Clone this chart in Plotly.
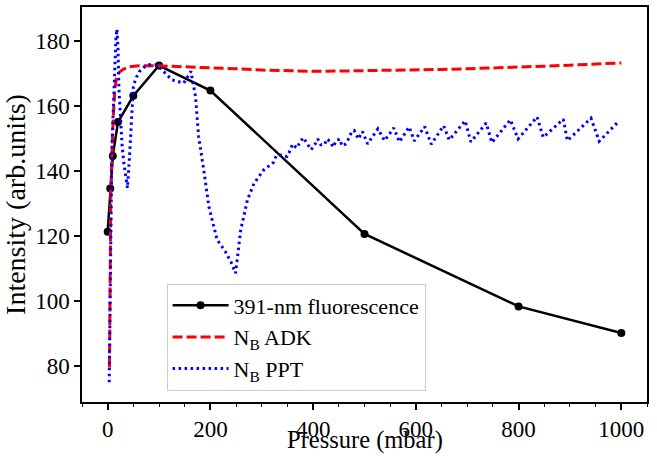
import plotly.graph_objects as go

# 391-nm fluorescence (measured)
p_fluo = [0, 5, 10, 20, 50, 100, 200, 500, 800, 1000]
i_fluo = [121.3, 134.6, 144.6, 155.0, 163.1, 172.4, 164.7, 120.6, 98.3, 90.1]

# N_B ADK
p_adk = [3.5, 4, 5, 6, 7, 8, 10, 12, 14, 17, 22, 30, 42, 60, 100, 150, 200, 250, 300,
         350, 400, 450, 500, 550, 600, 650, 700, 750, 800, 850, 900, 950, 1000]
i_adk = [79.5, 100, 118, 131, 139, 145, 153, 160, 165, 168.5, 170.2, 171.2, 172.0, 172.3,
         172.3, 172.0, 171.8, 171.4, 171.0, 170.8, 170.6, 170.7, 170.8, 170.8, 171.0,
         171.2, 171.4, 171.6, 171.8, 172.2, 172.5, 172.8, 173.2]

# N_B PPT
p_ppt = [3, 4, 5, 6, 7, 8, 10, 12, 14, 16, 18, 20, 22, 25, 28, 31, 35, 38.5, 42, 45, 48,
         50, 55, 62, 70, 80, 96, 109, 125, 148, 162, 171, 177, 187, 197, 213, 229, 240,
         249, 259, 272, 285, 304, 323, 328, 337, 349, 355, 360, 368, 375, 381, 388, 396,
         402, 409, 415, 422, 427, 433, 439, 445, 452, 456, 462, 470, 475, 480, 488, 496,
         506, 526, 539, 557, 568, 587, 597, 617, 630, 654, 665, 696, 707, 737, 748, 784,
         799, 836, 848, 887, 895, 941, 957, 994]
i_ppt = [75, 95, 115, 128, 138, 146, 155, 166, 175, 180.5, 183.6, 178, 165, 155.7, 148,
         143, 138, 134.7, 143, 152, 160, 166, 168.5, 170.6, 171.8, 172.6, 172.6, 170.6,
         168, 167, 170.6, 162.9, 150.6, 140.3, 129, 118.8, 115.2, 112, 108.5, 121.8, 131,
         136.2, 140.3, 142.6, 144.6, 144.9, 144.4, 146.2, 148.2, 147, 149, 150.2, 148.5,
         146.5, 147.7, 149.8, 148, 148, 149.8, 149, 147.3, 149.3, 149.8, 147.7, 148.1,
         150.1, 152.1, 152.4, 149.8, 152.1, 148.3, 152.9, 149.3, 153.2, 148.9, 153.5,
         149.2, 153.6, 148.2, 153.9, 149.5, 155.4, 148.9, 154.7, 148.7, 155.7, 149.8,
         156.6, 150.3, 155.9, 149.3, 156.2, 149.1, 155.1]

FONT = "Liberation Serif"

fig = go.Figure()
fig.add_trace(go.Scatter(
    x=p_fluo, y=i_fluo, mode="lines+markers", name="391-nm fluorescence",
    line=dict(color="black", width=2.5),
    marker=dict(color="black", size=8, symbol="circle"),
))
fig.add_trace(go.Scatter(
    x=p_adk, y=i_adk, mode="lines", name="N<sub>B</sub> ADK",
    line=dict(color="#ff0000", width=3, dash="10px,4px"),
))
fig.add_trace(go.Scatter(
    x=p_ppt, y=i_ppt, mode="lines", name="N<sub>B</sub> PPT",
    line=dict(color="#0000ff", width=3, dash="2.5px,3.5px"),
))

axis_common = dict(
    showline=True, linecolor="black", linewidth=1.5, mirror=True,
    showgrid=False, zeroline=False, automargin=False,
    ticks="outside", ticklen=6, tickwidth=1.5, tickcolor="black",
    tickfont=dict(family=FONT, size=23, color="black"),
)

fig.update_layout(
    width=657, height=456,
    margin=dict(l=82, r=10, t=7, b=54),
    paper_bgcolor="white", plot_bgcolor="white",
    font=dict(family=FONT, color="black", size=22),
    xaxis=dict(
        range=[-50, 1050], tickmode="array",
        tickvals=[0, 200, 400, 600, 800, 1000],
        minor=dict(ticks="outside", ticklen=3.5, tickwidth=1.2, tickcolor="black", dtick=50, tick0=0),
        **axis_common,
    ),
    yaxis=dict(
        range=[68.9, 190.4], tickmode="array",
        tickvals=[80, 100, 120, 140, 160, 180],
        title=dict(text="Intensity (arb.units)", font=dict(family=FONT, size=28)),
        **axis_common,
    ),
    legend=dict(
        x=0.1497, y=0.30, xanchor="left", yanchor="top",
        bgcolor="white", bordercolor="#cccccc", borderwidth=1,
        font=dict(family=FONT, size=22, color="black"),
        tracegroupgap=0, itemwidth=56,
    ),
    showlegend=True,
    annotations=[dict(
        text="Pressure (mbar)", xref="paper", yref="paper",
        x=0.5, y=-0.1367, xanchor="center", yanchor="bottom",
        showarrow=False, font=dict(family=FONT, size=24.5, color="black"),
    )],
)

fig.write_html("out.html")
